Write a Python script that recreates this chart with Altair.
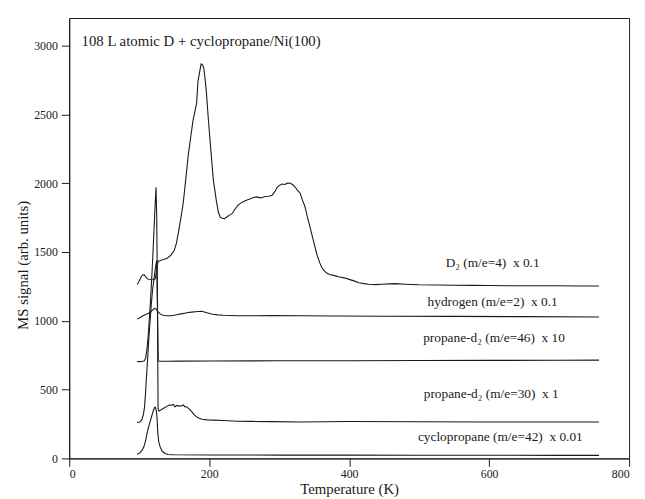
import altair as alt
import pandas as pd

# ---- data ----
D2_T = [97, 99, 101, 103, 105, 107, 109, 111, 114, 117, 120, 123, 125, 126.5, 128, 131, 135, 140, 145, 150,
        153, 156, 160, 163, 167, 170, 174, 177, 180, 182, 184, 186, 188.5, 190.5, 192.5, 194.5, 196, 199, 203, 206,
        210, 213, 216, 219, 222, 226, 229, 233, 237, 241, 245, 250, 255, 260, 264, 268, 273, 277, 280, 285,
        290, 294, 297, 300, 304, 308, 312, 316, 319, 323, 326, 330, 333, 337, 340, 344, 347, 351, 354, 358,
        361, 365, 368, 372, 379, 386, 393, 400, 407, 414, 421, 428, 438, 447, 457, 466, 480, 500, 525, 550,
        575, 600, 625, 650, 675, 700, 725, 757]
D2_V = [1265, 1278, 1300, 1322, 1333, 1335, 1322, 1308, 1300, 1298, 1300, 1305, 1380, 1425, 1433, 1440, 1445, 1455, 1475, 1510,
        1560, 1640, 1760, 1860, 2050, 2200, 2350, 2460, 2530, 2580, 2740, 2800, 2866, 2860, 2830, 2740, 2660, 2450, 2200, 2020,
        1880, 1790, 1750, 1745, 1742, 1758, 1768, 1780, 1812, 1838, 1855, 1868, 1880, 1888, 1898, 1900, 1893, 1898, 1903, 1905,
        1912, 1940, 1968, 1982, 1994, 1990, 2000, 1999, 1990, 1970, 1950, 1927, 1880, 1827, 1760, 1683, 1620, 1540, 1480, 1421,
        1385, 1361, 1347, 1337, 1328, 1318, 1312, 1301, 1290, 1277, 1270, 1265, 1263, 1265, 1268, 1270, 1266, 1262, 1260, 1258,
        1257, 1256, 1255, 1255, 1254, 1254, 1253, 1253]

H_T = [97, 101, 106, 111, 116, 119, 121.5, 124, 127, 130, 134, 139, 145, 150, 155, 160, 165, 170, 175, 180,
       185, 189, 193, 198, 205, 212, 220, 230, 240, 260, 290, 330, 380, 450, 550, 650, 757]
H_V = [1012, 1022, 1038, 1050, 1062, 1078, 1090, 1086, 1065, 1050, 1040, 1036, 1036, 1040, 1045, 1050, 1055, 1060, 1063, 1066,
       1068, 1069, 1064, 1057, 1048, 1043, 1040, 1038, 1037, 1036, 1038, 1036, 1035, 1033, 1032, 1030, 1028]

P46_T = [97, 103, 107, 109, 111, 113, 116, 118, 120, 122, 124, 125, 125.7, 126.4, 127.2, 130, 140, 160, 200, 300,
         400, 500, 600, 700, 757]
P46_V = [703, 704, 708, 725, 790, 900, 1134, 1320, 1530, 1760, 1970, 1760, 1400, 1000, 708, 706, 706, 707, 708, 709,
         710, 711, 712, 713, 714]

P30_T = [97, 101, 104, 106, 107.5, 109, 110, 112, 113.5, 115, 116.8, 119, 121, 123, 125, 126, 127, 128, 131, 134,
         137, 140, 143, 146, 149, 151, 154, 157, 160, 163, 165, 168, 170, 172, 175, 178, 181, 185, 190, 197,
         207, 220, 240, 260, 290, 330, 400, 500, 600, 700, 757]
P30_V = [262, 265, 283, 320, 369, 470, 560, 720, 847, 960, 1086, 1220, 1301, 1380, 1440, 1100, 360, 345, 352, 362,
         370, 380, 388, 386, 392, 375, 385, 380, 381, 388, 376, 374, 365, 357, 340, 320, 305, 293, 285, 280,
         278, 275, 270, 269, 267, 265, 268, 266, 265, 265, 264]

C_T = [97, 101, 104, 106.5, 109, 111, 113.5, 116, 118, 120, 122, 123, 124.5, 125.5, 126.7, 128, 130, 133, 137, 141,
       150, 200, 300, 400, 500, 600, 700, 757]
C_V = [30, 40, 58, 82, 125, 178, 230, 274, 310, 345, 370, 372, 345, 290, 178, 120, 82, 50, 36, 28,
       26, 25, 24, 24, 23, 23, 22, 22]

NB = "\u00a0"
LABEL_TEXT = ["D\u2082 (m/e=4)" + NB * 2 + "x 0.1", "hydrogen (m/e=2)" + NB * 2 + "x 0.1",
              "propane-d\u2082 (m/e=46)" + NB * 2 + "x 10", "propane-d\u2082 (m/e=30)" + NB * 2 + "x 1",
              "cyclopropane (m/e=42)" + NB * 2 + "x 0.01"]
LABEL_T = [605, 605, 607, 603, 616]
LABEL_V = [1421, 1134, 871, 465, 154]

TITLE_TEXT = ["108 L atomic D + cyclopropane/Ni(100)"]
TITLE_T = [17.6]
TITLE_V = [3034]

X_TICKS = [0, 200, 400, 600, 800]
Y_TICKS = [0, 500, 1000, 1500, 2000, 2500, 3000]

FONT = "Liberation Serif"
INK = "#1a1a1a"

series = [("D2", D2_T, D2_V), ("H2", H_T, H_V), ("P46", P46_T, P46_V), ("P30", P30_T, P30_V), ("C3H6", C_T, C_V)]
rows = []
for name, ts, vs in series:
    for i, (t, v) in enumerate(zip(ts, vs)):
        rows.append({"series": name, "idx": i, "T": t, "V": v})
df = pd.DataFrame(rows)

labels = pd.DataFrame({"T": LABEL_T, "V": LABEL_V, "text": LABEL_TEXT})
title = pd.DataFrame({"T": TITLE_T, "V": TITLE_V, "text": TITLE_TEXT})

xenc = alt.X("T:Q", scale=alt.Scale(domain=[0, 800], nice=False, zero=False),
             axis=alt.Axis(values=X_TICKS, format="d", title="Temperature (K)", titleY=31,
                           titleBaseline="middle", labelPadding=2))
yenc = alt.Y("V:Q", scale=alt.Scale(domain=[0, 3200], nice=False),
             axis=alt.Axis(values=Y_TICKS, format="d", title="MS signal (arb. units)", titleX=-47, titleY=250,
                           titleAlign="center", titleBaseline="middle", labelPadding=4))

lines = alt.Chart(df).mark_line(color=INK, strokeWidth=1.1).encode(
    x=xenc, y=yenc, detail="series:N", order="idx:Q")

lab = alt.Chart(labels).mark_text(font=FONT, fontSize=13.5, align="center", baseline="middle", color=INK).encode(
    x="T:Q", y="V:Q", text="text:N")

ttl = alt.Chart(title).mark_text(font=FONT, fontSize=15, align="left", baseline="middle", color=INK).encode(
    x="T:Q", y="V:Q", text="text:N")

chart = alt.layer(lines, lab, ttl).properties(
    width=567, height=446,
    autosize=alt.AutoSizeParams(type="none"),
    padding={"left": 62, "top": 7, "right": 8, "bottom": 40},
).configure_view(stroke=INK, strokeWidth=1).configure_axis(
    grid=False, domainColor=INK, tickColor=INK, labelColor=INK, titleColor=INK,
    labelFont=FONT, titleFont=FONT, labelFontSize=12, titleFontSize=15, titleFontWeight="normal",
    tickSize=8, domainWidth=1, tickWidth=1,
)

chart.save("out.html", embed_options={"renderer": "svg", "actions": False})
